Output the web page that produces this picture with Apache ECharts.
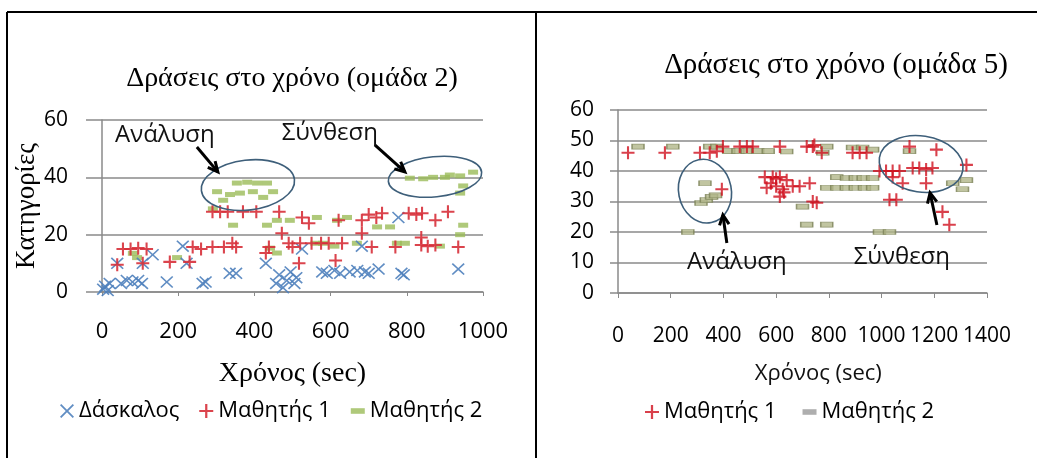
<!DOCTYPE html>
<html><head><meta charset="utf-8">
<script src="https://cdn.jsdelivr.net/npm/echarts@6/dist/echarts.min.js"></script>
<style>html,body{margin:0;padding:0;background:#fff}#c{width:1037px;height:458px}</style>
</head><body><div id="c"></div>
<script>
// ---- Chart 1 (ομάδα 2) ----
const teacher2 = [[3,1],[8,2],[15,0.5],[20,3],[50,3],[65,4],[80,3.5],[95,4],[105,3],[40,10],[107,10],[133,13],[170,3.5],[212,16],[222,10],[264,3],[272,3.5],[335,6.5],[352,6.5],[430,10],[457,3],[465,6],[475,1.5],[485,4],[495,7],[505,3],[510,5],[525,15],[578,7],[590,6.5],[610,7.5],[625,6.5],[650,7],[670,7.5],[690,7],[700,6.5],[682,16],[726,8],[778,26],[786,6.5],[792,6],[935,8]];
const student1g2 = [[40,9.5],[107,10],[55,15],[75,15],[95,15.3],[117,15],[178,10.5],[230,10.5],[238,15.7],[260,15],[290,15.7],[320,15.7],[352,15.7],[342,17],[290,28],[310,28],[330,28],[370,28],[405,28],[465,28],[438,15.7],[430,13.6],[472,20.5],[500,15.7],[517,10],[525,26],[543,24],[490,17],[520,17],[550,17],[575,17],[595,17],[613,11],[621,25],[630,17],[682,25],[700,27],[720,26],[735,27.5],[682,20.5],[708,15.7],[770,15.7],[805,27.5],[825,27],[840,27.5],[838,16.4],[855,16],[875,16.4],[875,25],[908,28],[935,15.7],[838,19]];
const student2g2 = [[302,35],[354,38],[381,38.3],[407,38],[433,38],[336,34],[362,34.5],[396,35],[423,33],[449,35],[318,32],[291,29],[808,39.7],[843,39.5],[869,40],[913,40.8],[940,40.5],[974,41.8],[948,37],[940,34.5],[900,40],[344,23.3],[433,23.3],[459,25],[493,25],[564,26],[617,25],[643,26],[722,22.7],[756,22.7],[948,23.3],[441,15.3],[459,13.6],[669,17],[774,17],[795,17],[580,17],[197,12],[81,13.5],[92,12],[887,16],[940,20],[560,17],[610,16]];
// ---- Chart 2 (ομάδα 5) ----
const student1g5 = [[38,46],[178,46],[311,46],[348,46],[375,46.5],[398,48],[462,48],[489,48],[511,48],[614,48],[716,48],[739,48],[745,48.5],[773,46],[890,46],[917,46],[943,46],[1106,48],[1208,47],[1322,42],[557,38],[587,38],[614,38],[640,37],[564,34.5],[600,35],[625,34],[663,35],[614,31.6],[689,35],[727,36],[739,30],[754,29.6],[580,36],[600,37.5],[630,33],[992,40],[1017,40],[1042,40],[1068,40],[1042,38],[1080,36],[1118,41],[1143,41],[1169,40.5],[1193,41],[1169,36],[1030,30.6],[1056,30.6],[1231,26.6],[1257,22.4],[394,34]];
const student2g5 = [[76,48],[208,48],[265,20],[792,48],[777,46],[348,48],[375,48],[420,46.5],[455,46.5],[490,46.5],[530,46.5],[570,46.5],[640,46.4],[830,38],[867,37.7],[900,37.7],[930,37.7],[966,37.7],[890,47.7],[928,47.7],[966,47],[792,34.5],[830,34.5],[866,34.5],[900,34.5],[935,34.5],[966,34.5],[330,36],[315,29.5],[335,30.5],[355,31.5],[370,32],[700,28.3],[716,22.4],[792,22.4],[992,20],[1030,20],[1106,46.5],[1270,36],[1322,37],[1307,34]];
const xTicks1 = [0,200,400,600,800,1000];
const xTicks2 = [0,200,400,600,800,1000,1200,1400];

const SANS = '"Open Sans", sans-serif';
const SERIF = '"Liberation Serif", serif';
const PLUS = 'path://M4.2,0H5.8V4.2H10V5.8H5.8V10H4.2V5.8H0V4.2H4.2Z';
const CROSS = 'path://M0,0.9L0.9,0L5,4.1L9.1,0L10,0.9L5.9,5L10,9.1L9.1,10L5,5.9L0.9,10L0,9.1L4.1,5Z';
const DASH = 'path://M0,0H10V4H0Z';

const chart = echarts.init(document.getElementById('c'));
const gridLine = {lineStyle:{color:'#8a8a8a',width:1.5}};
const axisLab = (fs)=>({color:'#000',fontFamily:SANS,fontSize:fs});

const option = {
  animation:false,
  title:[
    {text:'Δράσεις στο χρόνο (ομάδα 2)',left:287,top:60,textAlign:'center',textStyle:{fontFamily:SERIF,fontSize:28,fontWeight:'normal',color:'#000'}},
    {text:'Δράσεις στο χρόνο (ομάδα 5)',left:831,top:46,textAlign:'center',textStyle:{fontFamily:SERIF,fontSize:29,fontWeight:'normal',color:'#000'}}
  ],
  legend:[
    {left:55,top:395,itemWidth:14,itemHeight:14,itemGap:20,textStyle:{fontFamily:SANS,fontSize:22,color:'#000'},
     data:[{name:'Δάσκαλος',icon:CROSS},{name:'Μαθητής 1',icon:PLUS},{name:'Μαθητής 2',icon:DASH}]},
    {left:640,top:396,itemWidth:14,itemHeight:14,itemGap:26,textStyle:{fontFamily:SANS,fontSize:22,color:'#000'},
     formatter:n=>n.replace(' (5)',''),
     data:[{name:'Μαθητής 1 (5)',icon:PLUS},{name:'Μαθητής 2 (5)',icon:DASH,itemStyle:{color:'#9a9a9a',borderWidth:0}}]}
  ],
  grid:[
    {left:102,top:120,width:381,height:172},
    {left:618,top:110,width:369,height:183}
  ],
  xAxis:[
    {gridIndex:0,type:'value',min:0,max:1000,interval:200,
     name:'Χρόνος (sec)',nameLocation:'middle',nameGap:68,nameTextStyle:{fontFamily:SERIF,fontSize:28,color:'#000'},
     axisLine:{show:true,lineStyle:{color:'#8a8a8a',width:1.5}},axisTick:{show:true,length:4,lineStyle:{color:'#8a8a8a'}},
     splitLine:{show:false},axisLabel:Object.assign(axisLab(22),{margin:29,formatter:v=>xTicks1.includes(v)?String(v):''})},
    {gridIndex:1,type:'value',min:0,max:1400,interval:200,
     axisLine:{show:true,lineStyle:{color:'#8a8a8a',width:1.5}},axisTick:{show:true,length:5,lineStyle:{color:'#8a8a8a'}},
     splitLine:{show:false},axisLabel:Object.assign(axisLab(21),{margin:33,interval:0,formatter:v=>xTicks2.includes(v)?String(v):''})}
  ],
  yAxis:[
    {gridIndex:0,type:'value',min:0,max:60,interval:20,
     name:'Κατηγορίες',nameLocation:'middle',nameGap:45,nameRotate:90,nameTextStyle:{fontFamily:SERIF,fontSize:27,color:'#000'},
     axisLine:{show:true,lineStyle:{color:'#8a8a8a',width:1.5}},axisTick:{show:true,length:16,lineStyle:{color:'#8a8a8a',width:1.5}},
     splitLine:gridLine,axisLabel:Object.assign(axisLab(21),{margin:34})},
    {gridIndex:1,type:'value',min:0,max:60,interval:10,
     axisLine:{show:true,lineStyle:{color:'#8a8a8a',width:1.5}},axisTick:{show:true,length:8,lineStyle:{color:'#8a8a8a',width:1.5}},
     splitLine:gridLine,axisLabel:Object.assign(axisLab(21),{margin:24})}
  ],
  series:[
    {name:'Δάσκαλος',type:'scatter',xAxisIndex:0,yAxisIndex:0,data:teacher2,symbol:CROSS,symbolSize:[13,12],itemStyle:{color:'#4F81BD',opacity:0.9}},
    {name:'Μαθητής 1',type:'scatter',xAxisIndex:0,yAxisIndex:0,data:student1g2,symbol:PLUS,symbolSize:13,itemStyle:{color:'#D7303A',opacity:0.9}},
    {name:'Μαθητής 2',type:'scatter',xAxisIndex:0,yAxisIndex:0,data:student2g2,symbol:'rect',symbolSize:[10,5],itemStyle:{color:'#9BBB59'},z:1},
    {name:'Μαθητής 1 (5)',type:'scatter',xAxisIndex:1,yAxisIndex:1,data:student1g5,symbol:PLUS,symbolSize:13,itemStyle:{color:'#D0101E'},z:3},
    {name:'Μαθητής 2 (5)',type:'scatter',xAxisIndex:1,yAxisIndex:1,data:student2g5,symbol:'rect',symbolSize:[12,5],itemStyle:{color:'#B2B68A',borderColor:'#7c8258',borderWidth:1},z:2}
  ]
};
chart.setOption(option);

// ---- annotations (anchored in data coordinates) ----
const ann = [
  {g:0,text:'Ανάλυση',at:[165,54.8],fs:24},
  {g:0,text:'Σύνθεση',at:[598,55.5],fs:24},
  {g:1,text:'Ανάλυση',at:[451,10.2],fs:24},
  {g:1,text:'Σύνθεση',at:[1077,11.8],fs:24},
  {g:1,text:'Χρόνος (sec)',at:[760,-26.5],fs:22}
];
const ellipses = [
  {g:0,c:[383,37.3],rx:[123,0],ry:[0,8.7],rot:0.12},
  {g:0,c:[874,40.2],rx:[123,0],ry:[0,7],rot:0.1},
  {g:1,c:[330,33.4],rx:[100,0],ry:[0,10.5],rot:0.2},
  {g:1,c:[1150,42.3],rx:[160,0],ry:[0,9.2],rot:-0.15}
];
const arrows = [
  {g:0,from:[249,50.6],to:[304,41.9]},
  {g:0,from:[716,51.3],to:[795,41.9]},
  {g:1,from:[413,16.4],to:[398,25.6]},
  {g:1,from:[1210,22.3],to:[1184,32.8]}
];
const px = (g,p)=>chart.convertToPixel({gridIndex:g},p);
const gfx = [];
// outer frame
gfx.push({type:'line',shape:{x1:7,y1:12,x2:1037,y2:12},style:{stroke:'#000',lineWidth:2}});
gfx.push({type:'line',shape:{x1:7,y1:12,x2:7,y2:458},style:{stroke:'#000',lineWidth:2}});
gfx.push({type:'line',shape:{x1:536,y1:12,x2:536,y2:458},style:{stroke:'#000',lineWidth:2}});
ellipses.forEach(e=>{
  const c = px(e.g,e.c);
  const a = px(e.g,[e.c[0]+e.rx[0],e.c[1]]);
  const b = px(e.g,[e.c[0],e.c[1]+e.ry[1]]);
  gfx.push({type:'ellipse',x:c[0],y:c[1],rotation:e.rot,shape:{cx:0,cy:0,rx:Math.abs(a[0]-c[0]),ry:Math.abs(b[1]-c[1])},
    style:{fill:'none',stroke:'#3e5f7a',lineWidth:1.6},z:10});
});
arrows.forEach(r=>{
  const f = px(r.g,r.from), t = px(r.g,r.to);
  const ang = Math.atan2(t[1]-f[1],t[0]-f[0]);
  const L = 11, w = 0.45;
  gfx.push({type:'line',shape:{x1:f[0],y1:f[1],x2:t[0],y2:t[1]},style:{stroke:'#000',lineWidth:3},z:11});
  gfx.push({type:'polyline',shape:{points:[[t[0]-L*Math.cos(ang-w),t[1]-L*Math.sin(ang-w)],[t[0],t[1]],[t[0]-L*Math.cos(ang+w),t[1]-L*Math.sin(ang+w)]]},
    style:{stroke:'#000',lineWidth:3,fill:'none'},z:11});
});
ann.forEach(a=>{
  const p = px(a.g,a.at);
  gfx.push({type:'text',x:p[0],y:p[1],style:{text:a.text,fontFamily:SANS,fontSize:a.fs,fill:'#111',align:'center',verticalAlign:'middle'},z:12});
});
chart.setOption({graphic:gfx});
</script></body></html>
